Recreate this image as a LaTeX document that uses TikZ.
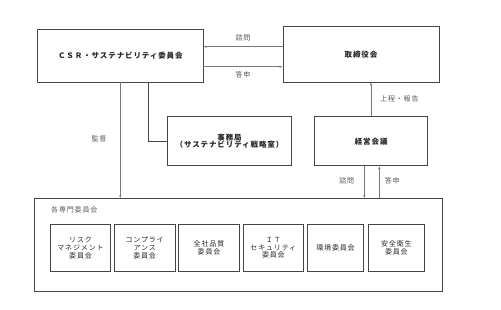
\documentclass[tikz,border=0pt]{standalone}
\usepackage{fontspec}
\newfontfamily\jpfont[LetterSpace=12]{Noto Sans CJK JP}
\usetikzlibrary{arrows.meta,positioning,calc}
\definecolor{boxline}{RGB}{70,70,70}
\definecolor{arrline}{RGB}{120,120,120}
\definecolor{labeltext}{RGB}{90,90,90}
\tikzset{
  orgbox/.style={draw=boxline,line width=0.8pt,fill=white,inner sep=0pt,
    align=center,font=\jpfont\fontsize{7.5}{7.7}\selectfont\bfseries,text=black!85},
  subbox/.style={draw=boxline,line width=0.8pt,inner sep=0pt,
    align=center,font=\jpfont\fontsize{7}{7.7}\selectfont,text=black!85},
  arr/.style={draw=arrline,line width=0.6pt,-{Latex[length=3pt,width=2.4pt]}},
  plainline/.style={draw=boxline,line width=0.7pt},
  flowlabel/.style={font=\jpfont\fontsize{7}{7.7}\selectfont,text=labeltext,inner sep=0pt}
}
\begin{document}
\begin{tikzpicture}[x=1pt,y=-1pt]
\useasboundingbox (0,0) rectangle (501,309);
% main boxes
\node[orgbox,minimum width=165.3pt,minimum height=52.3pt] (csr) at (120.35,55.85)
  {ＣＳＲ・サステナビリティ委員会};
\node[orgbox,minimum width=156pt,minimum height=55.3pt] (board) at (361,54.35) {取締役会};
\node[orgbox,minimum width=123.6pt,minimum height=49pt] (office) at (229.5,141.2)
  {事務局\\（サステナビリティ戦略室）};
\node[orgbox,minimum width=113pt,minimum height=49pt] (mgmt) at (371.2,141.2) {経営会議};
\node[subbox,minimum width=408.3pt,minimum height=92.3pt] (senmon) at (238.15,244.85) {};
\node[flowlabel,anchor=west] (senmontitle) at (51,210.3) {各専門委員会};
% committees
\foreach \cx/\w/\name/\txt in {80.5/60.4/risk/{リスク\\マネジメント\\委員会},
    144.65/60.7/comp/{コンプライ\\アンス\\委員会},
    209/60.6/qual/{全社品質\\委員会},
    273.35/60.7/itsec/{ＩＴ\\セキュリティ\\委員会},
    335.5/56.4/env/{環境委員会},
    396.35/56.7/safety/{安全衛生\\委員会}}
  \node[subbox,minimum width=\w pt,minimum height=47.7pt] (\name) at (\cx,247.85) {\txt};
% connectors
\coordinate (qY) at (0,46.7);
\coordinate (aY) at (0,66.7);
\draw[arr] (board.west |- qY) -- node[flowlabel,above=5pt] (q1) {諮問} (csr.east |- qY);
\draw[arr] (csr.east |- aY) -- node[flowlabel,below=5pt] (a1) {答申} (board.west |- aY);
\coordinate (supX) at (120.3,0);
\draw[arr] (csr.south -| supX) -- (senmon.north -| supX);
\node[flowlabel] (sup) at (99,139) {監督};
\coordinate (offX) at (148,0);
\draw[plainline] (csr.south -| offX) |- (office.west);
\coordinate (upX) at (371,0);
\draw[arr] (mgmt.north -| upX) -- (board.south -| upX);
\node[flowlabel,anchor=west] (report) at (380,98.7) {上程・報告};
\coordinate (q2X) at (364.3,0);
\coordinate (a2X) at (379.3,0);
\draw[arr] (mgmt.south -| q2X) -- (senmon.north -| q2X);
\draw[arr] (senmon.north -| a2X) -- (mgmt.south -| a2X);
\node[flowlabel] (q2) at (346.7,181) {諮問};
\node[flowlabel] (a2) at (392.3,181) {答申};
\end{tikzpicture}
\end{document}
